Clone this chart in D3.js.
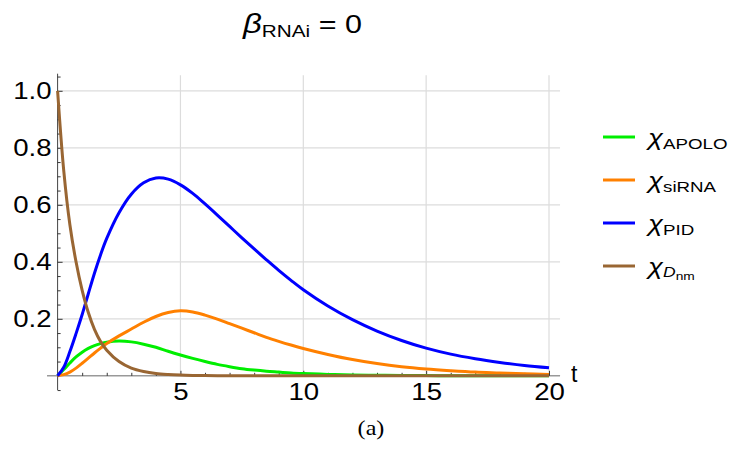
<!DOCTYPE html>
<html><head><meta charset="utf-8">
<script src="https://cdn.jsdelivr.net/npm/d3@7"></script>
<style>body{margin:0;background:#fff} svg{display:block}</style>
</head><body><svg id="c" width="732" height="452"></svg>
<script>
// ---- data ----
const tValues = [0,0.25,0.5,0.75,1,1.25,1.5,1.75,2,2.5,3,3.5,4,4.5,5,5.5,6,6.5,7,7.5,8,8.5,9,9.5,10,11,12,13,14,15,16,17,18,19,20];
const chiAPOLO = [0,0.022,0.045,0.066,0.083,0.096,0.106,0.113,0.118,0.122,0.119,0.111,0.100,0.086,0.073,0.061,0.050,0.040,0.032,0.025,0.020,0.016,0.013,0.010,0.008,0.005,0.003,0.002,0.001,0.001,0,0,0,0,0];
const chiSiRNA = [0,0.004,0.013,0.027,0.044,0.062,0.080,0.097,0.113,0.140,0.164,0.188,0.208,0.222,0.228,0.224,0.213,0.199,0.183,0.167,0.151,0.135,0.121,0.108,0.096,0.075,0.057,0.043,0.032,0.024,0.018,0.013,0.010,0.007,0.005];
const chiPID = [0,0.030,0.085,0.148,0.215,0.288,0.360,0.425,0.482,0.572,0.637,0.677,0.694,0.690,0.670,0.640,0.603,0.564,0.524,0.484,0.445,0.407,0.370,0.335,0.302,0.245,0.197,0.157,0.124,0.097,0.076,0.060,0.047,0.036,0.028];
const chiDnm = [1,0.72,0.53,0.40,0.30,0.222,0.163,0.120,0.090,0.050,0.027,0.015,0.008,0.0045,0.0025,0.0014,0.0008,0.0004,0.0002,0,0,0,0,0,0,0,0,0,0,0,0,0,0,0,0];
const seriesNames = ["APOLO","siRNA","PID","Dnm"];
const seriesColors = ["#00ee00","#ff8000","#0000ff","#996633"];
const xMajorTicks = [5,10,15,20];
const xMinorTicks = [1,2,3,4,6,7,8,9,11,12,13,14,16,17,18,19];
const yMajorTicks = [0.2,0.4,0.6,0.8,1.0];
const yTickLabels = ["0.2","0.4","0.6","0.8","1.0"];
const yMinorTicks = [-0.05,0.05,0.1,0.15,0.25,0.3,0.35,0.45,0.5,0.55,0.65,0.7,0.75,0.85,0.9,0.95,1.05];

const allSeries = [chiAPOLO, chiSiRNA, chiPID, chiDnm];
const svg = d3.select("#c");
const FONT = "'Liberation Sans', Arial, Helvetica, sans-serif";

const x = d3.scaleLinear().domain([0,20]).range([57.6,549]);
const y = d3.scaleLinear().domain([0,1]).range([375.8,90.8]);

// grid
const g = svg.append("g");
g.selectAll("line.gx").data(xMajorTicks).join("line")
  .attr("x1",d=>x(d)).attr("x2",d=>x(d)).attr("y1",y(1.055)).attr("y2",y(0))
  .attr("stroke","#dcdcdc").attr("stroke-width",1.2);
g.selectAll("line.gy").data(yMajorTicks).join("line")
  .attr("x1",x(0)).attr("x2",x(20.45)).attr("y1",d=>y(d)).attr("y2",d=>y(d))
  .attr("stroke","#dcdcdc").attr("stroke-width",1.2);

// axis lines
svg.append("line").attr("x1",x(-0.43)).attr("x2",x(20.45)).attr("y1",y(0)).attr("y2",y(0))
  .attr("stroke","#999").attr("stroke-width",1.4);
svg.append("line").attr("x1",x(0)).attr("x2",x(0)).attr("y1",y(1.06)).attr("y2",y(-0.05))
  .attr("stroke","#444").attr("stroke-width",1);

// y axis ticks and labels
const SX = 1.15;
const yAx = svg.append("g").attr("transform",`translate(${x(0)},0)`)
  .call(d3.axisLeft(y).tickValues(yMajorTicks).tickSize(-5).tickPadding(6)
    .tickFormat((d,i)=>yTickLabels[i]));
const yAxMinor = svg.append("g").attr("transform",`translate(${x(0)},0)`)
  .call(d3.axisLeft(y).tickValues(yMinorTicks).tickSize(-3).tickFormat(""));
// x axis ticks and labels
const xAx = svg.append("g").attr("transform",`translate(0,${y(0)})`)
  .call(d3.axisBottom(x).tickValues(xMajorTicks).tickSize(-5).tickPadding(7.5).tickFormat(d3.format("d")));
const xAxMinor = svg.append("g").attr("transform",`translate(0,${y(0)})`)
  .call(d3.axisBottom(x).tickValues(xMinorTicks).tickSize(-3).tickFormat(""));
[yAx,yAxMinor,xAx,xAxMinor].forEach(a=>{
  a.select(".domain").remove();
  a.selectAll(".tick line").attr("stroke","#222").attr("stroke-width",0.9);
  a.selectAll("text").attr("font-family",FONT).attr("font-size",24).attr("fill","#000")
    .attr("transform",`scale(${SX},1)`);
});
yAx.selectAll("text").attr("x",-6/SX);

// series
const line = d3.line().x((d,i)=>x(tValues[i])).y(d=>y(d)).curve(d3.curveCatmullRom.alpha(0.5));
svg.append("g").selectAll("path").data(allSeries).join("path")
  .attr("d",d=>line(d)).attr("fill","none")
  .attr("stroke",(d,i)=>seriesColors[i]).attr("stroke-width",3)
  .attr("stroke-linejoin","round");

// axis label t
svg.append("text").attr("x",571).attr("y",382).attr("font-family",FONT).attr("font-size",23).text("t");

// title
const title = svg.append("text").attr("transform","translate(243,33) scale(1.22,1)")
  .attr("font-family",FONT).attr("font-size",25);
title.append("tspan").attr("font-style","italic").attr("font-size",27).text("β");
title.append("tspan").attr("font-size",17).attr("dy",4).text("RNAi");
title.append("tspan").attr("dy",-4).text(" = 0");

// legend
const lg = svg.append("g");
const legY = [137,180,223,266];
seriesNames.forEach((nm,i)=>{
  lg.append("line").attr("x1",603).attr("x2",635).attr("y1",legY[i]).attr("y2",legY[i])
    .attr("stroke",seriesColors[i]).attr("stroke-width",3);
  const t = lg.append("text").attr("transform",`translate(648,${legY[i]+8}) scale(1.25,1)`)
    .attr("font-family",FONT).attr("font-size",22);
  t.append("tspan").attr("font-style","italic").text("χ");
  if (nm === "Dnm") {
    t.append("tspan").attr("font-style","italic").attr("font-size",14).attr("dy",3).text("D");
    t.append("tspan").attr("font-size",11).attr("dy",3).text("nm");
  } else {
    t.append("tspan").attr("font-size",15).attr("dy",4).text(nm);
  }
});

// caption
svg.append("text").attr("transform","translate(371,435) scale(1.15,1)").attr("text-anchor","middle")
  .attr("font-family","'Liberation Serif','DejaVu Serif',serif").attr("font-size",21).text("(a)");
</script>
</body></html>
